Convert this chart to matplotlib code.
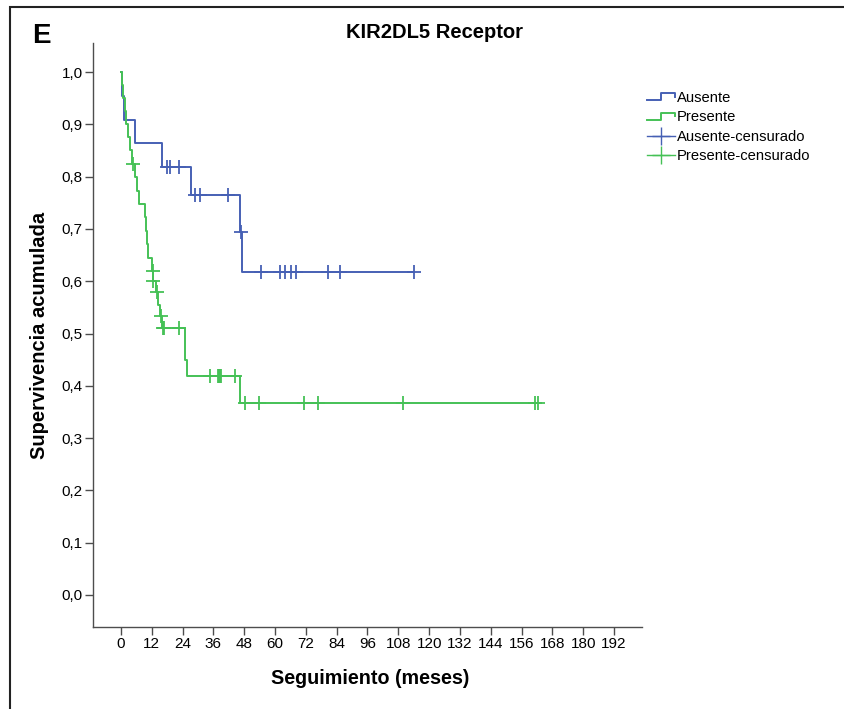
import numpy as np
import matplotlib
matplotlib.use("Agg")
import matplotlib.pyplot as plt
from matplotlib.lines import Line2D
from matplotlib.patches import Rectangle
from matplotlib.legend_handler import HandlerBase

matplotlib.rcParams["font.family"] = ["Liberation Sans", "DejaVu Sans"]

# Ausente: event times (months) and survival after each event.
aus_time = [0.5, 1.0, 5.6, 15.8, 27.1, 46.4, 47.0]
aus_surv = [0.955, 0.909, 0.864, 0.818, 0.764, 0.694, 0.617]
aus_cens = [18.0, 19.1, 22.7, 28.9, 30.8, 41.5, 46.6, 54.4, 61.8, 63.9, 66.1, 68.2, 80.8, 85.1, 114.1]

# Presente.
pre_time = [0.3, 0.8, 1.4, 2.0, 2.7, 3.4, 4.2, 5.3, 6.1, 6.9, 9.3, 9.6, 10.0, 10.6, 12.0,
            12.5, 13.5, 14.6, 15.2, 16.0, 24.9, 25.0, 25.6, 46.2]
pre_surv = [0.975, 0.95, 0.925, 0.90, 0.875, 0.85, 0.825, 0.799, 0.773, 0.748, 0.722, 0.696,
            0.671, 0.645, 0.619, 0.600, 0.579, 0.555, 0.533, 0.510, 0.478, 0.449, 0.419, 0.367]
pre_cens = [4.8, 12.3, 12.6, 14.1, 15.5, 16.5, 16.8, 22.7, 34.8, 37.6, 38.2, 38.6, 38.9, 44.3,
            48.3, 53.9, 71.3, 76.8, 109.9, 161.2, 162.5]

x_ticks = list(range(0, 193, 12))
y_ticks = [0.0, 0.1, 0.2, 0.3, 0.4, 0.5, 0.6, 0.7, 0.8, 0.9, 1.0]

BLUE = "#4660b4"
GREEN = "#45c156"
AXC = "#4d4d4d"


def surv_at(times, surv, t):
    idx = np.searchsorted(times, t, side="right") - 1
    vals = np.asarray(surv)[np.clip(idx, 0, None)]
    return np.where(idx >= 0, vals, 1.0)


class StepHandler(HandlerBase):
    def create_artists(self, legend, orig_handle, xdescent, ydescent, width, height, fontsize, trans):
        xs = np.array([0, 0.5, 0.5, 1.0, 1.0]) * width - xdescent
        ys = np.array([0.15, 0.15, 0.85, 0.85, 0.5]) * height - ydescent
        line = Line2D(xs, ys, color=orig_handle.get_color(), lw=orig_handle.get_linewidth())
        line.set_transform(trans)
        return [line]


fig = plt.figure(figsize=(8.44, 7.09), dpi=100)
ax = fig.add_axes([93 / 844, 1 - 627 / 709, (642 - 93) / 844, (627 - 43) / 709])

curves = []
for times, surv, cens, color in [(aus_time, aus_surv, aus_cens, BLUE), (pre_time, pre_surv, pre_cens, GREEN)]:
    t = np.concatenate([[0], times, [max(cens)]])
    s = np.concatenate([[1.0], surv, [surv[-1]]])
    ln, = ax.step(t, s, where="post", color=color, lw=1.4)
    curves.append(ln)
    ax.plot(cens, surv_at(times, surv, cens), ls="none", marker="+", ms=10, mew=1.3, color=color)

ax.set_xlim(-10.9, 202.9)
ax.set_ylim(-0.0612, 1.0555)
ax.set_xticks(x_ticks)
ax.set_xticklabels([str(v) for v in x_ticks], family=["Liberation Sans Narrow", "Liberation Sans"])
ax.set_yticks(y_ticks)
ax.set_yticklabels([("%.1f" % v).replace(".", ",") for v in y_ticks])
ax.spines["top"].set_visible(False)
ax.spines["right"].set_visible(False)
for sp in ["left", "bottom"]:
    ax.spines[sp].set_color(AXC)
    ax.spines[sp].set_linewidth(1.0)
ax.tick_params(direction="out", length=5.8, width=1.0, color=AXC, labelsize=11, pad=1.5)

fig.text(40 / 844, 1 - 335 / 709, "Supervivencia acumulada", rotation=90, ha="center", va="center",
         fontsize=14.5, fontweight="bold")
fig.text(370 / 844, 1 - 678 / 709, "Seguimiento (meses)", ha="center", va="center",
         fontsize=14.2, fontweight="bold")
fig.text(435 / 844, 1 - 33 / 709, "KIR2DL5 Receptor", ha="center", va="center",
         fontsize=14.5, fontweight="bold")
fig.text(32 / 844, 1 - 36 / 709, "E", ha="left", va="center", fontsize=20, fontweight="bold")

fig.add_artist(Rectangle((10 / 844, -0.05), 1.1, 1 - 7 / 709 + 0.05, transform=fig.transFigure,
                         fill=False, lw=1.5, ec="#222222"))

cens_aus = Line2D([], [], color=BLUE, lw=1.0, marker="+", ms=13, mew=1.0)
cens_pre = Line2D([], [], color=GREEN, lw=1.0, marker="+", ms=13, mew=1.0)
ax.legend([curves[0], curves[1], cens_aus, cens_pre],
          ["Ausente", "Presente", "Ausente-censurado", "Presente-censurado"],
          handler_map={curves[0]: StepHandler(), curves[1]: StepHandler()},
          loc="upper left", bbox_to_anchor=(647 / 844, 1 - 91 / 709), bbox_transform=fig.transFigure,
          frameon=False, fontsize=10.6, handlelength=1.9, handletextpad=0.15, labelspacing=0.37,
          borderpad=0, borderaxespad=0, numpoints=1)

fig.savefig("out.png", dpi=100)
